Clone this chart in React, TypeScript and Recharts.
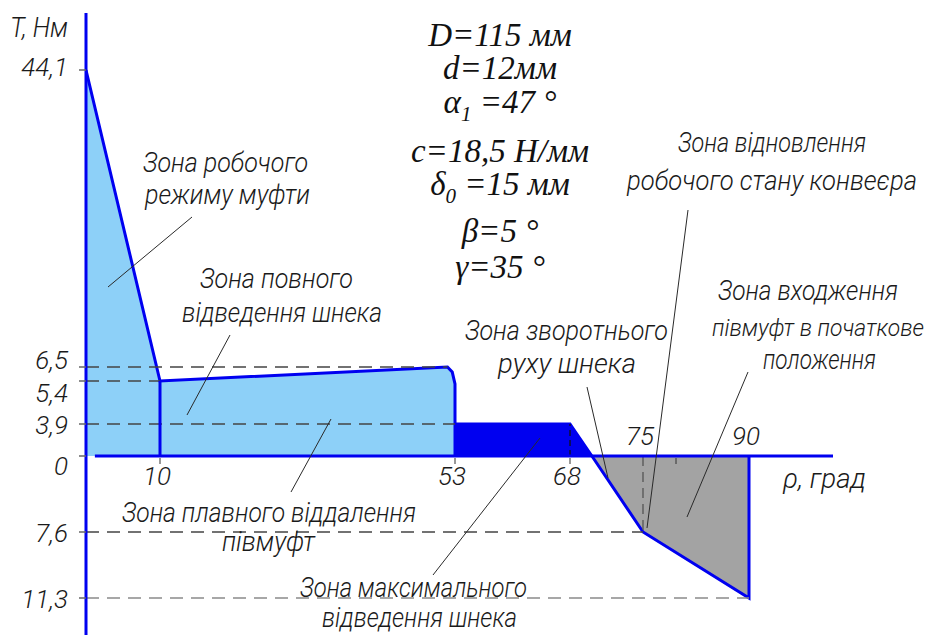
import React from 'react';
import { ComposedChart, Area, XAxis, YAxis, ReferenceLine, ReferenceDot } from 'recharts';

// ---------------- data ----------------
// zone of working mode + full retraction + smooth separation (light blue)
const zoneAPhi = [0, 10, 51.9, 52.6, 53, 53];
const zoneAT = [44.1, 5.4, 6.5, 6.1, 5.3, 0];
// zone of maximal retraction (dark blue)
const zoneBPhi = [53, 68, 70.1];
const zoneBT = [3.9, 3.9, 0];
// reverse motion / recovery / half-coupling return (grey, negative torque)
const zoneCPhi = [70.1, 75, 90, 90];
const zoneCT = [0, -7.6, -11.3, 0];

const yTicks = [44.1, 6.5, 5.4, 3.9, 0, -7.6, -11.3];
const xTicksBelow = [10, 53, 68];
const xTicksAbove = [75, 90];
const xMinorTicks = [80];

const hGuideT = [6.5, 5.4, 3.9, -7.6, -11.3];
const hGuideEnd = [51.9, 10, 53, 75, 90];
const vGuidePhi = [68, 75];
const vGuideT = [3.9, -7.6];

const yTitle = 'T, Нм';
const xTitle = 'ρ, град';

const paramLines: [string, string, string][] = [
  ['D=115 мм', '', ''],
  ['d=12мм', '', ''],
  ['α', '1', ' =47 °'],
  ['c=18,5 Н/мм', '', ''],
  ['δ', '0', ' =15 мм'],
  ['β=5 °', '', ''],
  ['γ=35 °', '', ''],
];

const zoneTexts: string[][] = [
  ['Зона робочого', 'режиму муфти'],
  ['Зона повного', 'відведення шнека'],
  ['Зона плавного віддалення', 'півмуфт'],
  ['Зона максимального', 'відведення шнека'],
  ['Зона зворотнього', 'руху шнека'],
  ['Зона відновлення', 'робочого стану конвеєра'],
  ['Зона входження', 'півмуфт в початкове', 'положення'],
];

// ---------------- layout / style ----------------
const W = 935;
const H = 635;
const BLUE = '#0000f0';
const LIGHT = '#8dd0f8';
const GREY = '#a3a3a3';
const SANS = "Roboto, 'DejaVu Sans Condensed', sans-serif";
const SW = 300;
const SERIF = "'Liberation Serif', 'DejaVu Serif', serif";
const FS = 27;
const TFS = 26;
const INK = '#1a1a1a';

// schematic (broken) axes: value knots and their relative positions along the axis
const xKnotV = [0, 10, 53, 68, 75, 80, 90, 100];
const xKnotP = [86, 160, 455, 570, 643, 676, 749, 833];
const yKnotV = [-13.4, -11.3, -7.6, 0, 3.9, 5.4, 6.5, 44.1, 51];
const yKnotP = [635, 598, 532, 456, 424, 381, 367, 70, 13];

function piecewiseScale(vals: number[], fr: number[]) {
  const make = (d0: number[], r0: number[]): any => {
    let dom = d0.slice();
    let rng = r0.slice();
    const f: any = (v: number) => {
      const n = vals.length;
      let i = 0;
      while (i < n - 2 && v > vals[i + 1]) i++;
      const t = fr[i] + ((v - vals[i]) / (vals[i + 1] - vals[i])) * (fr[i + 1] - fr[i]);
      return rng[0] + t * (rng[1] - rng[0]);
    };
    f.domain = (d?: number[]) => {
      if (d === undefined) return dom.slice();
      dom = d.slice();
      return f;
    };
    f.range = (r?: number[]) => {
      if (r === undefined) return rng.slice();
      rng = r.slice();
      return f;
    };
    f.copy = () => make(dom, rng);
    f.ticks = () => vals.slice();
    f.tickFormat = () => (v: number) => String(v);
    f.invert = (px: number) => {
      const t = (px - rng[0]) / (rng[1] - rng[0]);
      let i = 0;
      while (i < vals.length - 2 && t > fr[i + 1]) i++;
      return vals[i] + ((t - fr[i]) / (fr[i + 1] - fr[i])) * (vals[i + 1] - vals[i]);
    };
    return f;
  };
  return make([vals[0], vals[vals.length - 1]], [0, 1]);
}

const xFrac = xKnotP.map((p) => (p - xKnotP[0]) / (xKnotP[xKnotP.length - 1] - xKnotP[0]));
const yFrac = yKnotP.map((p) => (yKnotP[0] - p) / (yKnotP[0] - yKnotP[yKnotP.length - 1]));
const xScale = piecewiseScale(xKnotV, xFrac);
const yScale = piecewiseScale(yKnotV, yFrac);

const toPts = (phi: number[], t: number[]) => phi.map((p, i) => ({ phi: p, T: t[i] }));
const zoneA = toPts(zoneAPhi, zoneAT);
const zoneB = toPts(zoneBPhi, zoneBT);
const zoneC = toPts(zoneCPhi, zoneCT);

const yLabelShift: Record<string, number> = { '44.1': -4, '6.5': -8, '5.4': 11, '3.9': 0, '0': 9, '-7.6': 0, '-11.3': 0 };
const fmt = (v: number) => String(Math.abs(v)).replace('.', ',');

const YTick = (props: any) => {
  const { x, y, payload } = props;
  const v = payload.value as number;
  const s = yLabelShift[String(v)] ?? 0;
  return (
    <text x={x} y={y + s + 9.5} textAnchor="end" fontFamily={SANS} fontWeight={SW} fontStyle="italic" fontSize={TFS} fill={INK}>
      {fmt(v)}
    </text>
  );
};

const xTickShape = (label: string, above: boolean) => (p: any) => {
  const { cx, cy } = p;
  return (
    <g>
      {!above && <line x1={cx} x2={cx} y1={cy + 2} y2={cy + 8} stroke="#333" strokeWidth={1} />}
      {label !== '' && (
        <text
          x={cx - 3}
          y={above ? cy - 11 : cy + 29}
          textAnchor="middle"
          fontFamily={SANS}
          fontWeight={SW}
          fontStyle="italic"
          fontSize={TFS}
          fill={INK}
        >
          {label}
        </text>
      )}
    </g>
  );
};

// annotation layout: [x, baseline, width, fontSize] per line
const zoneLayout: [number, number, number, number][][] = [
  [[143, 172, 165, FS], [145, 204, 165, FS]],
  [[200, 288, 153, FS], [182, 322, 200, FS]],
  [[122, 522, 294, FS], [222, 551, 93, FS]],
  [[300, 597, 227, FS], [322, 627, 195, FS]],
  [[465, 340, 203, FS], [498, 373, 138, FS]],
  [[678, 152, 188, FS], [627, 190, 290, FS]],
  [[718, 300, 180, FS], [712, 336, 212, 24], [763, 369, 113, FS]],
];
const leaders: [number, number, number, number][] = [
  [192, 217, 108, 287],
  [230, 335, 187, 415],
  [331, 419, 291, 492],
  [540, 438, 433, 575],
  [587, 387, 608, 478],
  [688, 210, 647, 528],
  [748, 372, 687, 517],
];
const paramBaselines = [46, 79, 113, 162, 195, 242, 278];

export default function App() {
  return (
    <div style={{ position: 'absolute', left: 0, top: 0, width: W, height: H, background: '#fff' }}>
      <ComposedChart width={W} height={H} margin={{ top: 13, right: W - 833, bottom: 0, left: 0 }}>
        <XAxis type="number" dataKey="phi" domain={[0, 100]} scale={xScale} allowDataOverflow hide />
        <YAxis
          type="number"
          dataKey="T"
          domain={[-13.4, 51]}
          scale={yScale}
          allowDataOverflow
          width={86}
          ticks={yTicks}
          interval={0}
          tick={<YTick />}
          tickSize={7}
          tickMargin={11}
          tickLine={{ stroke: '#666', strokeWidth: 1.5 }}
          axisLine={{ stroke: BLUE, strokeWidth: 3 }}
        />
        <Area data={zoneA} dataKey="T" type="linear" fill={LIGHT} fillOpacity={1} stroke={BLUE} strokeWidth={3} dot={false} activeDot={false} isAnimationActive={false} />
        <Area data={zoneB} dataKey="T" type="linear" fill={BLUE} fillOpacity={1} stroke={BLUE} strokeWidth={3} dot={false} activeDot={false} isAnimationActive={false} />
        <Area data={zoneC} dataKey="T" type="linear" fill={GREY} fillOpacity={1} stroke={BLUE} strokeWidth={3} dot={false} activeDot={false} isAnimationActive={false} />
        {hGuideT.map((t, i) => (
          <ReferenceLine
            key={'h' + i}
            segment={[{ x: 0, y: t }, { x: hGuideEnd[i], y: t }]}
            stroke={t === -11.3 ? '#8a8a8a' : '#444'}
            strokeWidth={1.3}
            strokeDasharray="13 8"
          />
        ))}
        {vGuidePhi.map((p, i) => (
          <ReferenceLine
            key={'v' + i}
            segment={[{ x: p, y: 0 }, { x: p, y: vGuideT[i] }]}
            stroke={i === 0 ? '#111' : '#555'}
            strokeWidth={1.3}
            strokeDasharray={i === 0 ? '6 4' : '10 6'}
          />
        ))}
        <ReferenceLine segment={[{ x: 10, y: 0 }, { x: 10, y: 5.4 }]} stroke={BLUE} strokeWidth={3} />
        <ReferenceLine segment={[{ x: 1.2, y: 0 }, { x: 100, y: 0 }]} stroke={BLUE} strokeWidth={3} />
        {xTicksBelow.map((p) => (
          <ReferenceDot key={'xb' + p} x={p} y={0} r={1} shape={xTickShape(String(p), false)} />
        ))}
        {xTicksAbove.map((p) => (
          <ReferenceDot key={'xa' + p} x={p} y={0} r={1} shape={xTickShape(String(p), true)} />
        ))}
        {xMinorTicks.map((p) => (
          <ReferenceDot key={'xm' + p} x={p} y={0} r={1} shape={xTickShape('', false)} />
        ))}
      </ComposedChart>
      <svg width={W} height={H} style={{ position: 'absolute', left: 0, top: 0, pointerEvents: 'none' }}>
        <text x={10} y={37} textLength={58} lengthAdjust="spacingAndGlyphs" fontFamily={SANS} fontWeight={SW} fontStyle="italic" fontSize={FS} fill={INK}>
          {yTitle}
        </text>
        <text x={783} y={488} textLength={83} lengthAdjust="spacingAndGlyphs" fontFamily={SANS} fontWeight={SW} fontStyle="italic" fontSize={FS} fill={INK}>
          {xTitle}
        </text>
        {leaders.map((l, i) => (
          <line key={'l' + i} x1={l[0]} y1={l[1]} x2={l[2]} y2={l[3]} stroke="#2a2a2a" strokeWidth={1} />
        ))}
        {zoneTexts.map((lines, zi) =>
          lines.map((s, li) => {
            const [x, y, w, fs] = zoneLayout[zi][li];
            return (
              <text
                key={'z' + zi + '_' + li}
                x={x}
                y={y}
                textLength={w}
                lengthAdjust="spacingAndGlyphs"
                fontFamily={SANS}
                fontWeight={SW}
                fontStyle="italic"
                fontSize={fs}
                fill={INK}
              >
                {s}
              </text>
            );
          })
        )}
        {paramLines.map((pl, i) => (
          <text key={'p' + i} x={500} y={paramBaselines[i]} textAnchor="middle" fontFamily={SERIF} fontStyle="italic" fontSize={33} fill="#111">
            {pl[0]}
            {pl[1] !== '' && (
              <tspan fontSize={21} dy={8}>
                {pl[1]}
              </tspan>
            )}
            {pl[2] !== '' && <tspan dy={pl[1] !== '' ? -8 : 0}>{pl[2]}</tspan>}
          </text>
        ))}
      </svg>
    </div>
  );
}
